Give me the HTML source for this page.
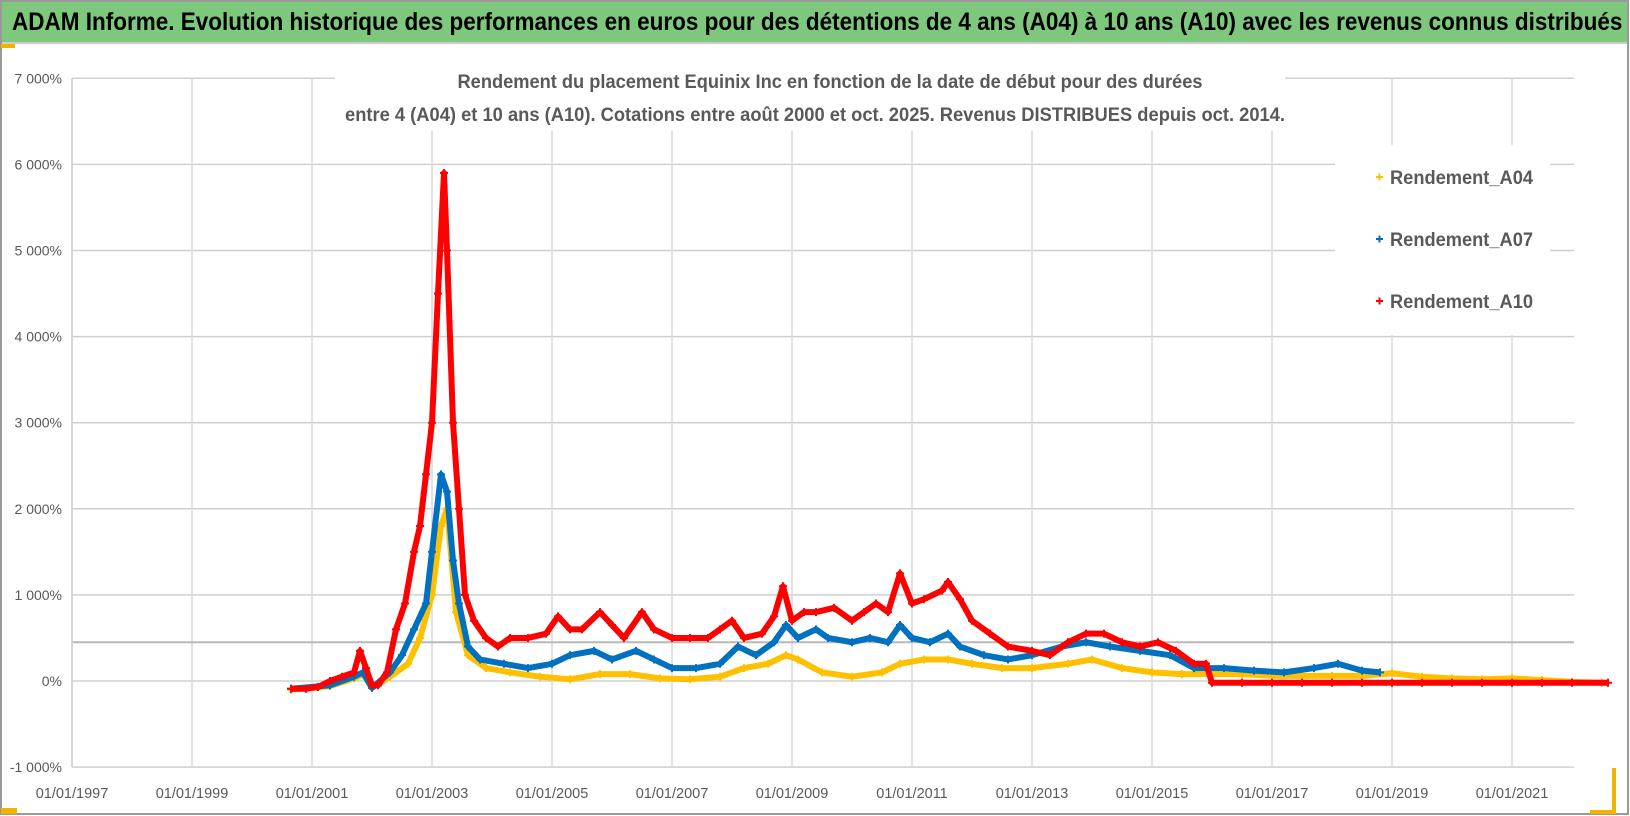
<!DOCTYPE html>
<html><head><meta charset="utf-8"><style>
body{margin:0;width:1630px;height:816px;overflow:hidden;background:#fff;font-family:"Liberation Sans",sans-serif}
#bar{position:absolute;left:2px;top:2px;width:1626px;height:40px;background:#7ec87e;border-bottom:2px solid #ccc}
#bar span{position:absolute;left:10px;top:6px;font-size:25px;font-weight:bold;white-space:nowrap;transform-origin:0 0;transform:scaleX(0.9);color:#000}
</style></head><body>
<div id="bar"><span>ADAM Informe. Evolution historique des performances en euros pour des détentions de 4 ans (A04) à 10 ans (A10) avec les revenus connus distribués</span></div>
<svg id="c" width="1630" height="816" style="position:absolute;left:0;top:0"></svg>
<script>
const yTicks=[-1000,0,1000,2000,3000,4000,5000,6000,7000];
const yTickLabels=["-1 000%","0%","1 000%","2 000%","3 000%","4 000%","5 000%","6 000%","7 000%"];
const xTicks=[1997,1999,2001,2003,2005,2007,2009,2011,2013,2015,2017,2019,2021];
const xTickLabels=xTicks.map(y=>"01/01/"+y);
const a04Dates=[2000.65,2001.3,2001.7,2001.85,2002.0,2002.3,2002.6,2002.8,2003.0,2003.15,2003.25,2003.4,2003.6,2003.9,2004.3,2004.8,2005.3,2005.8,2006.3,2006.8,2007.3,2007.8,2008.2,2008.6,2008.9,2009.1,2009.5,2010.0,2010.5,2010.8,2011.2,2011.6,2012.0,2012.5,2013.0,2013.6,2014.0,2014.5,2015.0,2015.5,2016.0,2016.5,2017.0,2017.5,2018.0,2018.5,2019.0,2019.5,2020.0,2020.5,2021.0,2021.5,2022.0,2022.5];
const a04Values=[-100,-60,30,80,-80,50,200,500,1000,1800,2000,800,300,150,100,50,20,80,80,30,20,50,150,200,300,250,100,50,100,200,250,250,200,150,150,200,250,150,100,80,80,80,60,60,60,60,90,50,30,20,30,10,-10,-20];
const a07Dates=[2000.65,2001.3,2001.7,2001.85,2002.0,2002.3,2002.5,2002.7,2002.9,2003.0,2003.15,2003.25,2003.35,2003.45,2003.6,2003.8,2004.2,2004.6,2005.0,2005.3,2005.7,2006.0,2006.4,2006.7,2007.0,2007.4,2007.8,2008.1,2008.4,2008.7,2008.9,2009.1,2009.4,2009.6,2010.0,2010.3,2010.6,2010.8,2011.0,2011.3,2011.6,2011.8,2012.2,2012.6,2013.0,2013.5,2013.9,2014.3,2014.8,2015.3,2015.7,2016.2,2016.7,2017.2,2017.7,2018.1,2018.5,2018.8];
const a07Values=[-90,-50,50,100,-80,100,300,600,900,1500,2400,2200,1400,900,400,250,200,150,200,300,350,250,350,250,150,150,200,400,300,450,650,500,600,500,450,500,450,650,500,450,550,400,300,250,300,400,450,400,350,300,150,150,120,100,150,200,120,100];
const a10Dates=[2000.65,2000.9,2001.1,2001.3,2001.5,2001.7,2001.8,2001.9,2002.0,2002.1,2002.25,2002.4,2002.55,2002.7,2002.8,2002.9,2003.0,2003.1,2003.2,2003.25,2003.35,2003.45,2003.55,2003.7,2003.9,2004.1,2004.3,2004.6,2004.9,2005.1,2005.3,2005.5,2005.8,2006.0,2006.2,2006.5,2006.7,2007.0,2007.3,2007.6,2007.8,2008.0,2008.2,2008.5,2008.7,2008.85,2009.0,2009.2,2009.4,2009.7,2010.0,2010.2,2010.4,2010.6,2010.8,2011.0,2011.2,2011.5,2011.6,2011.8,2012.0,2012.3,2012.6,2013.0,2013.3,2013.6,2013.9,2014.2,2014.5,2014.8,2015.1,2015.4,2015.7,2015.9,2016.0,2016.5,2017.0,2017.5,2018.0,2018.5,2019.0,2019.5,2020.0,2020.5,2021.0,2021.5,2022.0,2022.6];
const a10Values=[-90,-90,-70,0,50,100,350,150,-50,-50,100,600,900,1500,1800,2400,3000,4500,5900,5000,3000,2000,1000,700,500,400,500,500,550,750,600,600,800,650,500,800,600,500,500,500,600,700,500,550,750,1100,700,800,800,850,700,800,900,800,1250,900,950,1050,1150,950,700,550,400,350,300,450,550,550,450,400,450,350,200,200,-20,-20,-20,-20,-20,-20,-20,-20,-20,-20,-20,-20,-20,-20];
const NS="http://www.w3.org/2000/svg";
const svg=document.getElementById('c');
const L=72,R=1574;
const X=y=>L+(y-1997)*60;
const Y=v=>681-v*0.0861;
function mk(t,a,p){const e=document.createElementNS(NS,t);for(const k in a)e.setAttribute(k,a[k]);(p||svg).appendChild(e);return e;}
mk('rect',{x:1,y:1,width:1627,height:813,fill:'none',stroke:'#999','stroke-width':2});
mk('rect',{x:1,y:44,width:14,height:4,fill:'#f0b400'});
mk('rect',{x:1,y:808,width:16,height:6,fill:'#f0b400'});
mk('rect',{x:1612,y:768,width:4,height:46,fill:'#f0b400'});
mk('rect',{x:1590,y:810,width:26,height:4,fill:'#f0b400'});
yTicks.forEach((v,i)=>{
 const g=mk('line',{x1:L,x2:R,y1:Y(v),y2:Y(v),stroke:'#d0d0d0','stroke-width':1.5});
 
 const t=mk('text',{x:62,y:Y(v)+5,'text-anchor':'end','font-size':14,fill:'#595959'});
 t.textContent=yTickLabels[i];
 
});
xTicks.forEach((yv,i)=>{
 const g=mk('line',{x1:X(yv),x2:X(yv),y1:Y(7000),y2:Y(-1000),stroke:'#d8d8d8','stroke-width':1.5});
 
 const t=mk('text',{x:X(yv),y:798,'text-anchor':'middle','font-size':14.5,fill:'#595959'});
 t.textContent=xTickLabels[i];
 
});
mk('line',{x1:L,x2:R,y1:Y(450),y2:Y(450),stroke:'#b8b8b8','stroke-width':2});
mk('line',{x1:L,x2:L,y1:Y(7000),y2:Y(-1000),stroke:'#d0d0d0','stroke-width':1.5});
mk('rect',{x:335,y:68,width:950,height:62,fill:'#fff'});
const t1=mk('text',{x:830,y:88,'text-anchor':'middle','font-size':19,'font-weight':'bold',fill:'#595959',textLength:745,lengthAdjust:'spacingAndGlyphs'});
t1.textContent='Rendement du placement Equinix Inc en fonction de la date de début pour des durées';

const t2=mk('text',{x:815,y:121,'text-anchor':'middle','font-size':19,'font-weight':'bold',fill:'#595959',textLength:940,lengthAdjust:'spacingAndGlyphs'});
t2.textContent='entre 4 (A04) et 10 ans (A10). Cotations entre août 2000  et oct. 2025. Revenus DISTRIBUES depuis oct. 2014.';

const series=[[a04Dates,a04Values,'#ffc000','series-a04'],[a07Dates,a07Values,'#0070c0','series-a07'],[a10Dates,a10Values,'#ff0000','series-a10']];
series.forEach(([d,v,c,n])=>{
 const g=mk('g',{});
 
 mk('polyline',{points:d.map((x,i)=>X(x)+','+Y(v[i])).join(' '),fill:'none',stroke:c,'stroke-width':6,'stroke-linejoin':'round'},g);
 d.forEach((x,i)=>{
  const px=X(x),py=Y(v[i]);
  const p=mk('path',{d:`M${px-4},${py}h8M${px},${py-4}v8`,stroke:c,'stroke-width':2},g);
  
 });
});
mk('rect',{x:1335,y:145,width:215,height:190,fill:'#fff'});
[['Rendement_A04','#ffc000',177],['Rendement_A07','#0070c0',239],['Rendement_A10','#ff0000',301]].forEach(([s,c,y])=>{
 const g=mk('g',{});
 
 mk('path',{d:`M${1376},${y}h7M${1379.5},${y-3.5}v7`,stroke:c,'stroke-width':2},g);
 const t=mk('text',{x:1390,y:y+7,'font-size':19,'font-weight':'bold',fill:'#595959',textLength:143,lengthAdjust:'spacingAndGlyphs'},g);
 t.textContent=s;
});
</script>
</body></html>
